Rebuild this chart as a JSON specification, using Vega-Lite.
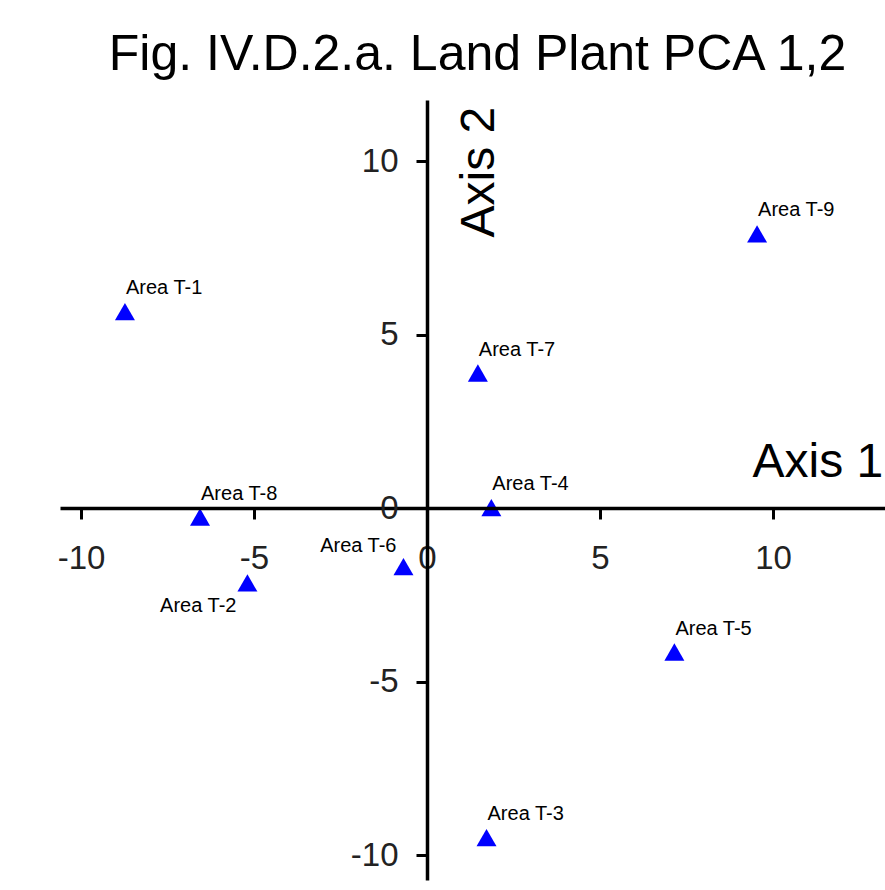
{
  "$schema": "https://vega.github.io/schema/vega-lite/v6.json",
  "width": 825,
  "height": 780,
  "autosize": {"type": "none"},
  "padding": {"left": 60, "top": 100, "right": 0, "bottom": 10},
  "background": "white",
  "title": {
    "text": "Fig. IV.D.2.a. Land Plant PCA 1,2",
    "fontSize": 50,
    "font": "Liberation Sans",
    "fontWeight": "normal",
    "color": "black",
    "anchor": "middle",
    "frame": "group",
    "dx": 5,
    "offset": -20,
    "baseline": "alphabetic"
  },
  "config": {"view": {"stroke": null}},
  "data": {
    "values": [
      {"label": "Area T-1", "pc1": -8.73, "pc2": 5.66},
      {"label": "Area T-2", "pc1": -5.19, "pc2": -2.16},
      {"label": "Area T-3", "pc1": 1.72, "pc2": -9.5},
      {"label": "Area T-4", "pc1": 1.86, "pc2": 0.01},
      {"label": "Area T-5", "pc1": 7.15, "pc2": -4.15},
      {"label": "Area T-6", "pc1": -0.68, "pc2": -1.69},
      {"label": "Area T-7", "pc1": 1.47, "pc2": 3.89},
      {"label": "Area T-8", "pc1": -6.56, "pc2": -0.26},
      {"label": "Area T-9", "pc1": 9.54, "pc2": 7.9}
    ]
  },
  "encoding": {
    "x": {
      "field": "pc1",
      "type": "quantitative",
      "scale": {"domain": [-10.607, 13.237], "nice": false, "zero": false},
      "axis": {
        "orient": "bottom",
        "offset": -372,
        "values": [-10, -5, 0, 5, 10],
        "labelExpr": "datum.value < 0 ? '-' + abs(datum.value) : '' + datum.value",
        "grid": false,
        "domainColor": "black",
        "domainWidth": 3.5,
        "tickColor": "black",
        "tickWidth": 3,
        "tickSize": 11,
        "labelFont": "Liberation Sans",
        "labelFontSize": 33,
        "labelColor": "#222",
        "labelPadding": 23,
        "labelFlush": false,
        "labelOverlap": false,
        "title": "Axis 1",
        "titleFont": "Liberation Sans",
        "titleFontSize": 48,
        "titleFontWeight": "normal",
        "titleColor": "black",
        "titleAnchor": null,
        "titleAngle": 0,
        "titleX": 692,
        "titleY": -32,
        "titleAlign": "left",
        "titleBaseline": "alphabetic",
        "zindex": 1
      }
    },
    "y": {
      "field": "pc2",
      "type": "quantitative",
      "scale": {"domain": [-10.72, 11.758], "nice": false, "zero": false},
      "axis": {
        "orient": "left",
        "offset": -367,
        "values": [-10, -5, 0, 5, 10],
        "labelExpr": "datum.value < 0 ? '-' + abs(datum.value) : '' + datum.value",
        "grid": false,
        "domainColor": "black",
        "domainWidth": 3.5,
        "tickColor": "black",
        "tickWidth": 3,
        "tickSize": 11,
        "labelFont": "Liberation Sans",
        "labelFontSize": 33,
        "labelColor": "#222",
        "labelPadding": 18,
        "labelFlush": false,
        "labelOverlap": false,
        "title": "Axis 2",
        "titleFont": "Liberation Sans",
        "titleFontSize": 48,
        "titleFontWeight": "normal",
        "titleColor": "black",
        "titleAnchor": null,
        "titleAngle": -90,
        "titleX": 66,
        "titleY": 137,
        "titleAlign": "left",
        "titleBaseline": "alphabetic",
        "zindex": 1
      }
    }
  },
  "layer": [
    {
      "mark": {"type": "point", "shape": "triangle-up", "filled": true, "color": "#0000ff", "opacity": 1, "size": 400, "strokeWidth": 0}
    },
    {
      "transform": [{"filter": "datum.label !== 'Area T-2' && datum.label !== 'Area T-6'"}],
      "mark": {"type": "text", "align": "left", "baseline": "alphabetic", "dx": 1, "dy": -17.5, "font": "Liberation Sans", "fontSize": 20, "color": "black"},
      "encoding": {"text": {"field": "label"}}
    },
    {
      "transform": [{"filter": "datum.label === 'Area T-6'"}],
      "mark": {"type": "text", "align": "right", "baseline": "alphabetic", "dx": -7, "dy": -15, "font": "Liberation Sans", "fontSize": 20, "color": "black"},
      "encoding": {"text": {"field": "label"}}
    },
    {
      "transform": [{"filter": "datum.label === 'Area T-2'"}],
      "mark": {"type": "text", "align": "right", "baseline": "alphabetic", "dx": -11, "dy": 29, "font": "Liberation Sans", "fontSize": 20, "color": "black"},
      "encoding": {"text": {"field": "label"}}
    }
  ]
}
